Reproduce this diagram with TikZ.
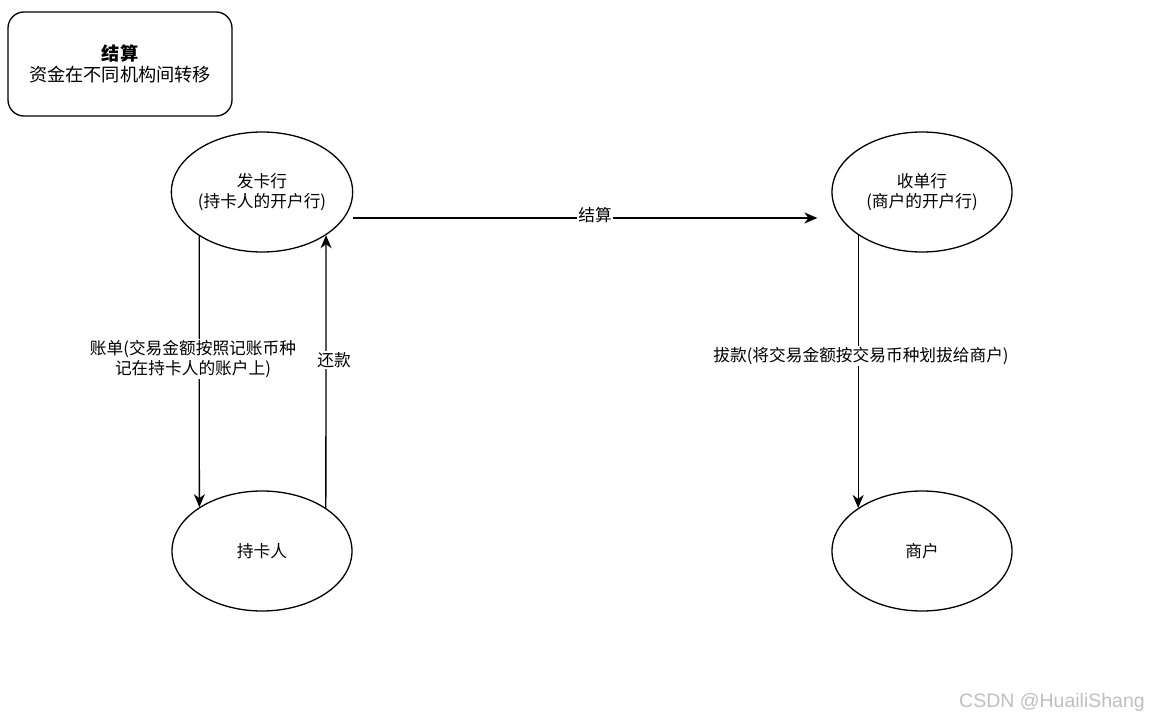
\documentclass[tikz,border=0pt]{standalone}
\usepackage{fontspec}
\setmainfont{Noto Sans CJK SC}
\usetikzlibrary{shapes.geometric,arrows.meta,calc}
\begin{document}
\begin{tikzpicture}[x=1pt,y=-1pt,
  every node/.style={font=\fontsize{16.7}{20.5}\selectfont},
  ell/.style={draw,ellipse,line width=1.3pt,minimum width=180pt,minimum height=120pt,inner sep=0pt,align=center},
  conn/.style={line width=1.3pt,-{Stealth[length=13pt,width=11pt,inset=4pt]}},
  lbl/.style={fill=white,inner sep=1pt,align=center}]
\useasboundingbox (0,0) rectangle (1157,722);
\node[draw,line width=1.3pt,rounded corners=16pt,minimum width=224pt,minimum height=104pt,align=center,font=\fontsize{18.2}{21.5}\selectfont] (box) at (120,64) {\textbf{结算}\\资金在不同机构间转移};
\node[ell] (fk) at (262,192) {发卡行\\(持卡人的开户行)};
\node[ell] (sd) at (922,192) {收单行\\(商户的开户行)};
\node[ell] (ck) at (262,551) {持卡人};
\node[ell] (sh) at (922,551) {商户};
\draw[conn] (fk.215) -- (ck.145);
\draw[conn] (ck.34) -- (fk.-34);
\draw[conn] ($(fk.east)+(0,26)$) -- ($(sd.west)+(-14,26)$);
\draw[conn] (sd.214) -- (sh.146);
\node[lbl] (l1) at (595,215) {结算};
\node[lbl] (l2) at (193,359) {账单(交易金额按照记账币种\\记在持卡人的账户上)};
\node[lbl] (l3) at (334,360) {还款};
\node[lbl] (l4) at (861,356) {拔款(将交易金额按交易币种划拔给商户)};
\node[text=black!25,font=\fontsize{19.5}{22}\selectfont\fontspec{Liberation Sans}] (wm) at (1052,702) {CSDN @HuailiShang};
\end{tikzpicture}
\end{document}
